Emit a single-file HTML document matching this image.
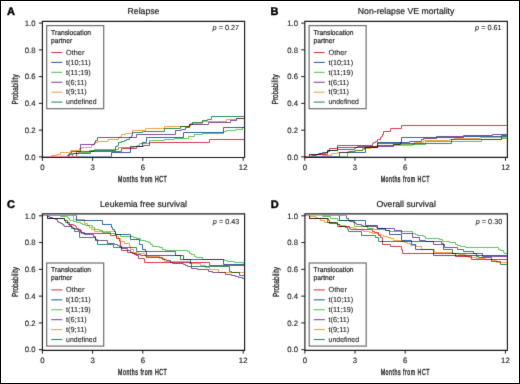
<!DOCTYPE html>
<html><head><meta charset="utf-8"><style>
html,body{margin:0;padding:0;background:#fff;}
svg{display:block;font-family:"Liberation Sans", sans-serif;will-change:transform;}
text{stroke:#1e1e1e;stroke-width:0.2px;text-rendering:geometricPrecision;}
</style></head><body>
<svg width="520" height="384" viewBox="0 0 520 384">
<defs><filter id="soft" x="0" y="0" width="520" height="384" filterUnits="userSpaceOnUse" color-interpolation-filters="sRGB"><feConvolveMatrix order="3" kernelMatrix="1 9 1 9 81 9 1 9 1" divisor="121" edgeMode="duplicate"/></filter></defs>
<g filter="url(#soft)">
<rect x="0" y="0" width="520" height="384" fill="#fff"/>
<text x="7.0" y="14.6" font-size="11" font-weight="bold" fill="#000" style="stroke:#000;stroke-width:0.45px">A</text>
<text x="143.50" y="14.40" font-size="8.7" text-anchor="middle" fill="#1e1e1e">Relapse</text>
<g style="mix-blend-mode:multiply">
<path d="M67.50,156.50 V155.50 H68.50 V154.50 H70.50 V154.50 H72.50 V153.50 H80.50 V153.50 H90.50 V151.50 H93.50 V150.50 H115.50 V146.50 H117.50 V145.50 H118.50 V142.50 H121.50 V141.50 H124.50 V140.50 H126.50 V139.50 H129.50 V137.50 H131.50 V135.50 H132.50 V132.50 H142.50 V131.50 H143.50 V131.50 H164.50 V128.50 H180.50 V126.50 H189.50 V124.50 H192.50 V122.50 H202.50 V120.50 H207.50 V119.50 H211.50 V116.50 H244.00" fill="none" stroke="#2f8a6a" stroke-width="1.0" style="mix-blend-mode:multiply"/>
<path d="M51.50,156.50 V155.50 H56.50 V154.50 H60.50 V152.50 H70.50 V150.50 H79.50 V148.50 H81.50 V147.50 H91.50 V145.50 H93.50 V144.50 H94.50 V143.50 H95.50 V142.50 H97.50 V141.50 H107.50 V140.50 H108.50 V139.50 H118.50 V137.50 H120.50 V136.50 H121.50 V134.50 H125.50 V133.50 H132.50 V130.50 H145.50 V128.50 H164.50 V126.50 H190.50 V123.50 H202.50 V121.50 H226.50 V119.50 H236.50 V118.50 H244.00" fill="none" stroke="#f8a044" stroke-width="1.0" style="mix-blend-mode:multiply"/>
<path d="M68.50,156.50 V155.50 H69.50 V153.50 H71.50 V151.50 H80.50 V144.50 H94.50 V142.50 H95.50 V140.50 H97.50 V137.50 H136.50 V134.50 H175.50 V130.50 H181.50 V129.50 H185.50 V127.50 H189.50 V124.50 H208.50 V122.50 H230.50 V120.50 H236.50 V118.50 H244.00" fill="none" stroke="#7f4f9f" stroke-width="1.0" style="mix-blend-mode:multiply"/>
<path d="M72.50,156.50 V154.50 H73.50 V153.50 H78.50 V152.50 H89.50 V150.50 H94.50 V149.50 H115.50 V149.50 H118.50 V147.50 H134.50 V146.50 H137.50 V145.50 H139.50 V143.50 H142.50 V143.50 H149.50 V140.50 H151.50 V140.50 H164.50 V139.50 H174.50 V138.50 H188.50 V136.50 H194.50 V134.50 H202.50 V133.50 H223.50 V131.50 H226.50 V130.50 H235.50 V129.50 H242.50 V127.50 H244.00" fill="none" stroke="#5ec45a" stroke-width="1.0" style="mix-blend-mode:multiply"/>
<path d="M111.50,156.50 V152.50 H130.50 V146.50 H142.50 V142.50 H146.50 V137.50 H183.50 V132.50 H223.50 V127.50 H244.00" fill="none" stroke="#3068a6" stroke-width="1.0" style="mix-blend-mode:multiply"/>
<path d="M76.50,156.50 V151.50 H90.50 V151.50 H121.50 V148.50 H136.50 V146.50 H143.50 V145.50 H149.50 V142.50 H209.50 V139.50 H244.00" fill="none" stroke="#d83a52" stroke-width="1.0" style="mix-blend-mode:multiply"/>
</g>
<line x1="42.50" y1="156.50" x2="76.50" y2="156.50" stroke="#d83a52" stroke-width="1.0" opacity="0.6"/>
<line x1="76.50" y1="156.50" x2="111.50" y2="156.50" stroke="#3068a6" stroke-width="1.0" opacity="0.6"/>
<path d="M42.40,21.30 H244.60 V157.50 H42.40 Z" fill="none" stroke="#161a1c" stroke-width="1.15"/>
<line x1="38.80" y1="156.90" x2="42.40" y2="156.90" stroke="#161a1c" stroke-width="1"/>
<text x="35.60" y="159.65" font-size="7.75" text-anchor="end" fill="#1e1e1e" style="stroke-width:0.12px">0.0</text>
<line x1="38.80" y1="130.14" x2="42.40" y2="130.14" stroke="#161a1c" stroke-width="1"/>
<text x="35.60" y="132.89" font-size="7.75" text-anchor="end" fill="#1e1e1e" style="stroke-width:0.12px">0.2</text>
<line x1="38.80" y1="103.38" x2="42.40" y2="103.38" stroke="#161a1c" stroke-width="1"/>
<text x="35.60" y="106.13" font-size="7.75" text-anchor="end" fill="#1e1e1e" style="stroke-width:0.12px">0.4</text>
<line x1="38.80" y1="76.62" x2="42.40" y2="76.62" stroke="#161a1c" stroke-width="1"/>
<text x="35.60" y="79.37" font-size="7.75" text-anchor="end" fill="#1e1e1e" style="stroke-width:0.12px">0.6</text>
<line x1="38.80" y1="49.86" x2="42.40" y2="49.86" stroke="#161a1c" stroke-width="1"/>
<text x="35.60" y="52.61" font-size="7.75" text-anchor="end" fill="#1e1e1e" style="stroke-width:0.12px">0.8</text>
<line x1="38.80" y1="23.10" x2="42.40" y2="23.10" stroke="#161a1c" stroke-width="1"/>
<text x="35.60" y="25.85" font-size="7.75" text-anchor="end" fill="#1e1e1e" style="stroke-width:0.12px">1.0</text>
<line x1="42.40" y1="157.50" x2="42.40" y2="160.80" stroke="#161a1c" stroke-width="1"/>
<text x="42.40" y="170.00" font-size="7.8" text-anchor="middle" fill="#1e1e1e" style="stroke-width:0.15px">0</text>
<line x1="92.60" y1="157.50" x2="92.60" y2="160.80" stroke="#161a1c" stroke-width="1"/>
<text x="92.60" y="170.00" font-size="7.8" text-anchor="middle" fill="#1e1e1e" style="stroke-width:0.15px">3</text>
<line x1="142.80" y1="157.50" x2="142.80" y2="160.80" stroke="#161a1c" stroke-width="1"/>
<text x="142.80" y="170.00" font-size="7.8" text-anchor="middle" fill="#1e1e1e" style="stroke-width:0.15px">6</text>
<line x1="243.20" y1="157.50" x2="243.20" y2="160.80" stroke="#161a1c" stroke-width="1"/>
<text x="243.20" y="170.00" font-size="7.8" text-anchor="middle" fill="#1e1e1e" style="stroke-width:0.15px">12</text>
<text transform="translate(142.70,182.20) scale(0.6,1)" font-size="8.8" text-anchor="middle" fill="#1e1e1e" style="stroke-width:0.4px;letter-spacing:0.85px">Months from HCT</text>
<text transform="translate(18.00,89.40) rotate(-90) scale(0.73,1)" font-size="8.8" text-anchor="middle" fill="#1e1e1e" style="stroke-width:0.3px">Probability</text>
<text x="239.20" y="29.70" font-size="7.3" text-anchor="end" fill="#1e1e1e" style="stroke-width:0.1px"><tspan font-style="italic">p</tspan> = 0.27</text>
<rect x="46.70" y="25.60" width="57.00" height="83.10" fill="#fff" stroke="#6e6e6e" stroke-width="1.2"/>
<text x="51.10" y="34.70" font-size="7.2" fill="#1e1e1e" textLength="40.0" lengthAdjust="spacingAndGlyphs">Translocation</text>
<text x="51.10" y="42.70" font-size="7.2" fill="#1e1e1e" textLength="21.2" lengthAdjust="spacingAndGlyphs">partner</text>
<line x1="51.30" y1="52.50" x2="62.30" y2="52.50" stroke="#d83a52" stroke-width="1.1"/>
<text x="66.10" y="54.80" font-size="7.3" fill="#1e1e1e" style="stroke-width:0.1px">Other</text>
<line x1="51.30" y1="62.42" x2="62.30" y2="62.42" stroke="#3068a6" stroke-width="1.1"/>
<text x="66.10" y="64.72" font-size="7.3" fill="#1e1e1e" style="stroke-width:0.1px">t(10;11)</text>
<line x1="51.30" y1="72.34" x2="62.30" y2="72.34" stroke="#5ec45a" stroke-width="1.1"/>
<text x="66.10" y="74.64" font-size="7.3" fill="#1e1e1e" style="stroke-width:0.1px">t(11;19)</text>
<line x1="51.30" y1="82.26" x2="62.30" y2="82.26" stroke="#7f4f9f" stroke-width="1.1"/>
<text x="66.10" y="84.56" font-size="7.3" fill="#1e1e1e" style="stroke-width:0.1px">t(6;11)</text>
<line x1="51.30" y1="92.18" x2="62.30" y2="92.18" stroke="#f8a044" stroke-width="1.1"/>
<text x="66.10" y="94.48" font-size="7.3" fill="#1e1e1e" style="stroke-width:0.1px">t(9;11)</text>
<line x1="51.30" y1="102.10" x2="62.30" y2="102.10" stroke="#2f8a6a" stroke-width="1.1"/>
<text x="66.10" y="104.40" font-size="7.3" fill="#1e1e1e" style="stroke-width:0.1px" textLength="30.4" lengthAdjust="spacingAndGlyphs">undefined</text>
<text x="270.6" y="14.6" font-size="11" font-weight="bold" fill="#000" style="stroke:#000;stroke-width:0.45px">B</text>
<text x="406.10" y="14.40" font-size="8.7" text-anchor="middle" fill="#1e1e1e">Non-relapse VE mortality</text>
<g style="mix-blend-mode:multiply">
<path d="M311.50,156.50 V155.50 H316.50 V154.50 H320.50 V153.50 H322.50 V153.50 H325.50 V152.50 H327.50 V150.50 H337.50 V147.50 H377.50 V143.50 H425.50 V143.50 H451.50 V139.50 H501.50 V136.50 H506.80" fill="none" stroke="#2f8a6a" stroke-width="1.0" style="mix-blend-mode:multiply"/>
<path d="M322.50,156.50 V155.50 H331.50 V153.50 H337.50 V152.50 H347.50 V151.50 H355.50 V150.50 H362.50 V148.50 H370.50 V146.50 H377.50 V145.50 H412.50 V144.50 H414.50 V142.50 H423.50 V140.50 H449.50 V139.50 H454.50 V138.50 H480.50 V137.50 H506.80" fill="none" stroke="#f8a044" stroke-width="1.0" style="mix-blend-mode:multiply"/>
<path d="M309.50,156.50 V154.50 H318.50 V153.50 H322.50 V152.50 H327.50 V150.50 H337.50 V149.50 H354.50 V148.50 H355.50 V147.50 H357.50 V146.50 H393.50 V144.50 H400.50 V142.50 H409.50 V141.50 H421.50 V139.50 H423.50 V138.50 H436.50 V136.50 H463.50 V135.50 H492.50 V134.50 H506.80" fill="none" stroke="#7f4f9f" stroke-width="1.0" style="mix-blend-mode:multiply"/>
<path d="M347.50,156.50 V152.50 H349.50 V151.50 H354.50 V150.50 H362.50 V149.50 H364.50 V147.50 H377.50 V145.50 H393.50 V144.50 H425.50 V141.50 H481.50 V139.50 H501.50 V138.50 H506.80" fill="none" stroke="#5ec45a" stroke-width="1.0" style="mix-blend-mode:multiply"/>
<path d="M339.50,156.50 V152.50 H365.50 V147.50 H377.50 V142.50 H401.50 V137.50 H436.50 V137.50 H463.50 V136.50 H501.50 V135.50 H506.80" fill="none" stroke="#3068a6" stroke-width="1.0" style="mix-blend-mode:multiply"/>
<path d="M309.50,156.50 V154.50 H327.50 V151.50 H329.50 V148.50 H337.50 V145.50 H372.50 V143.50 H373.50 V142.50 H375.50 V141.50 H377.50 V139.50 H378.50 V139.50 H380.50 V137.50 H381.50 V136.50 H382.50 V134.50 H383.50 V131.50 H390.50 V128.50 H401.50 V125.50 H506.80" fill="none" stroke="#d83a52" stroke-width="1.0" style="mix-blend-mode:multiply"/>
</g>
<line x1="304.50" y1="156.50" x2="309.50" y2="156.50" stroke="#d83a52" stroke-width="1.0" opacity="0.6"/>
<line x1="309.50" y1="156.50" x2="339.50" y2="156.50" stroke="#3068a6" stroke-width="1.0" opacity="0.6"/>
<line x1="339.50" y1="156.50" x2="347.50" y2="156.50" stroke="#5ec45a" stroke-width="1.0" opacity="0.6"/>
<path d="M304.80,21.30 H507.40 V157.40 H304.80 Z" fill="none" stroke="#161a1c" stroke-width="1.15"/>
<line x1="301.20" y1="156.90" x2="304.80" y2="156.90" stroke="#161a1c" stroke-width="1"/>
<text x="298.00" y="159.65" font-size="7.75" text-anchor="end" fill="#1e1e1e" style="stroke-width:0.12px">0.0</text>
<line x1="301.20" y1="130.14" x2="304.80" y2="130.14" stroke="#161a1c" stroke-width="1"/>
<text x="298.00" y="132.89" font-size="7.75" text-anchor="end" fill="#1e1e1e" style="stroke-width:0.12px">0.2</text>
<line x1="301.20" y1="103.38" x2="304.80" y2="103.38" stroke="#161a1c" stroke-width="1"/>
<text x="298.00" y="106.13" font-size="7.75" text-anchor="end" fill="#1e1e1e" style="stroke-width:0.12px">0.4</text>
<line x1="301.20" y1="76.62" x2="304.80" y2="76.62" stroke="#161a1c" stroke-width="1"/>
<text x="298.00" y="79.37" font-size="7.75" text-anchor="end" fill="#1e1e1e" style="stroke-width:0.12px">0.6</text>
<line x1="301.20" y1="49.86" x2="304.80" y2="49.86" stroke="#161a1c" stroke-width="1"/>
<text x="298.00" y="52.61" font-size="7.75" text-anchor="end" fill="#1e1e1e" style="stroke-width:0.12px">0.8</text>
<line x1="301.20" y1="23.10" x2="304.80" y2="23.10" stroke="#161a1c" stroke-width="1"/>
<text x="298.00" y="25.85" font-size="7.75" text-anchor="end" fill="#1e1e1e" style="stroke-width:0.12px">1.0</text>
<line x1="304.80" y1="157.40" x2="304.80" y2="160.70" stroke="#161a1c" stroke-width="1"/>
<text x="304.80" y="169.90" font-size="7.8" text-anchor="middle" fill="#1e1e1e" style="stroke-width:0.15px">0</text>
<line x1="354.98" y1="157.40" x2="354.98" y2="160.70" stroke="#161a1c" stroke-width="1"/>
<text x="354.98" y="169.90" font-size="7.8" text-anchor="middle" fill="#1e1e1e" style="stroke-width:0.15px">3</text>
<line x1="405.15" y1="157.40" x2="405.15" y2="160.70" stroke="#161a1c" stroke-width="1"/>
<text x="405.15" y="169.90" font-size="7.8" text-anchor="middle" fill="#1e1e1e" style="stroke-width:0.15px">6</text>
<line x1="505.50" y1="157.40" x2="505.50" y2="160.70" stroke="#161a1c" stroke-width="1"/>
<text x="505.50" y="169.90" font-size="7.8" text-anchor="middle" fill="#1e1e1e" style="stroke-width:0.15px">12</text>
<text transform="translate(405.30,182.10) scale(0.6,1)" font-size="8.8" text-anchor="middle" fill="#1e1e1e" style="stroke-width:0.4px;letter-spacing:0.85px">Months from HCT</text>
<text transform="translate(278.40,89.35) rotate(-90) scale(0.73,1)" font-size="8.8" text-anchor="middle" fill="#1e1e1e" style="stroke-width:0.3px">Probability</text>
<text x="501.70" y="30.30" font-size="7.3" text-anchor="end" fill="#1e1e1e" style="stroke-width:0.1px"><tspan font-style="italic">p</tspan> = 0.61</text>
<rect x="309.10" y="25.60" width="57.00" height="83.10" fill="#fff" stroke="#6e6e6e" stroke-width="1.2"/>
<text x="313.50" y="34.70" font-size="7.2" fill="#1e1e1e" textLength="40.0" lengthAdjust="spacingAndGlyphs">Translocation</text>
<text x="313.50" y="42.70" font-size="7.2" fill="#1e1e1e" textLength="21.2" lengthAdjust="spacingAndGlyphs">partner</text>
<line x1="313.70" y1="52.50" x2="324.70" y2="52.50" stroke="#d83a52" stroke-width="1.1"/>
<text x="328.50" y="54.80" font-size="7.3" fill="#1e1e1e" style="stroke-width:0.1px">Other</text>
<line x1="313.70" y1="62.42" x2="324.70" y2="62.42" stroke="#3068a6" stroke-width="1.1"/>
<text x="328.50" y="64.72" font-size="7.3" fill="#1e1e1e" style="stroke-width:0.1px">t(10;11)</text>
<line x1="313.70" y1="72.34" x2="324.70" y2="72.34" stroke="#5ec45a" stroke-width="1.1"/>
<text x="328.50" y="74.64" font-size="7.3" fill="#1e1e1e" style="stroke-width:0.1px">t(11;19)</text>
<line x1="313.70" y1="82.26" x2="324.70" y2="82.26" stroke="#7f4f9f" stroke-width="1.1"/>
<text x="328.50" y="84.56" font-size="7.3" fill="#1e1e1e" style="stroke-width:0.1px">t(6;11)</text>
<line x1="313.70" y1="92.18" x2="324.70" y2="92.18" stroke="#f8a044" stroke-width="1.1"/>
<text x="328.50" y="94.48" font-size="7.3" fill="#1e1e1e" style="stroke-width:0.1px">t(9;11)</text>
<line x1="313.70" y1="102.10" x2="324.70" y2="102.10" stroke="#2f8a6a" stroke-width="1.1"/>
<text x="328.50" y="104.40" font-size="7.3" fill="#1e1e1e" style="stroke-width:0.1px" textLength="30.4" lengthAdjust="spacingAndGlyphs">undefined</text>
<text x="7.0" y="207.8" font-size="11" font-weight="bold" fill="#000" style="stroke:#000;stroke-width:0.45px">C</text>
<text x="143.50" y="206.90" font-size="8.7" text-anchor="middle" fill="#1e1e1e">Leukemia free survival</text>
<g style="mix-blend-mode:multiply">
<path d="M47.50,215.50 V218.50 H64.50 V220.50 H65.50 V222.50 H69.50 V223.50 H69.50 V225.50 H71.50 V228.50 H74.50 V231.50 H79.50 V237.50 H95.50 V240.50 H97.50 V244.50 H113.50 V247.50 H136.50 V251.50 H175.50 V255.50 H180.50 V259.50 H190.50 V263.50 H191.50 V266.50 H229.50 V271.50 H231.50 V272.50 H239.50 V275.50 H244.00" fill="none" stroke="#2f8a6a" stroke-width="1.0" style="mix-blend-mode:multiply"/>
<path d="M47.50,215.50 V216.50 H49.50 V217.50 H52.50 V218.50 H53.50 V218.50 H55.50 V219.50 H57.50 V221.50 H58.50 V222.50 H60.50 V223.50 H62.50 V224.50 H63.50 V225.50 H64.50 V226.50 H72.50 V227.50 H73.50 V228.50 H75.50 V229.50 H76.50 V229.50 H78.50 V230.50 H80.50 V232.50 H84.50 V234.50 H90.50 V234.50 H93.50 V236.50 H95.50 V239.50 H97.50 V240.50 H107.50 V243.50 H114.50 V244.50 H117.50 V245.50 H119.50 V246.50 H121.50 V248.50 H127.50 V250.50 H130.50 V252.50 H132.50 V253.50 H134.50 V254.50 H140.50 V255.50 H146.50 V257.50 H162.50 V259.50 H166.50 V260.50 H170.50 V262.50 H172.50 V263.50 H183.50 V264.50 H185.50 V265.50 H187.50 V266.50 H191.50 V268.50 H197.50 V269.50 H208.50 V271.50 H212.50 V272.50 H225.50 V274.50 H231.50 V275.50 H235.50 V276.50 H238.50 V277.50 H242.50 V278.50 H244.00" fill="none" stroke="#7f4f9f" stroke-width="1.0" style="mix-blend-mode:multiply"/>
<path d="M73.50,215.50 V219.50 H84.50 V223.50 H87.50 V225.50 H89.50 V227.50 H91.50 V229.50 H94.50 V231.50 H115.50 V234.50 H116.50 V236.50 H118.50 V238.50 H120.50 V241.50 H124.50 V243.50 H129.50 V246.50 H130.50 V249.50 H133.50 V252.50 H138.50 V253.50 H144.50 V254.50 H145.50 V256.50 H159.50 V258.50 H164.50 V261.50 H189.50 V263.50 H200.50 V265.50 H205.50 V267.50 H209.50 V269.50 H218.50 V272.50 H244.00" fill="none" stroke="#f8a044" stroke-width="1.0" style="mix-blend-mode:multiply"/>
<path d="M60.50,215.50 V216.50 H67.50 V217.50 H68.50 V218.50 H69.50 V220.50 H71.50 V220.50 H73.50 V221.50 H76.50 V222.50 H80.50 V223.50 H82.50 V224.50 H85.50 V225.50 H90.50 V225.50 H92.50 V227.50 H94.50 V229.50 H99.50 V230.50 H102.50 V232.50 H105.50 V232.50 H110.50 V233.50 H114.50 V234.50 H120.50 V236.50 H133.50 V237.50 H136.50 V238.50 H140.50 V240.50 H145.50 V241.50 H148.50 V242.50 H150.50 V244.50 H152.50 V246.50 H159.50 V247.50 H162.50 V249.50 H165.50 V250.50 H187.50 V251.50 H189.50 V253.50 H191.50 V254.50 H194.50 V256.50 H196.50 V257.50 H202.50 V259.50 H224.50 V260.50 H227.50 V261.50 H234.50 V262.50 H243.50 V263.50 H244.00" fill="none" stroke="#5ec45a" stroke-width="1.0" style="mix-blend-mode:multiply"/>
<path d="M76.50,215.50 V220.50 H102.50 V224.50 H111.50 V227.50 H112.50 V229.50 H114.50 V231.50 H115.50 V234.50 H130.50 V239.50 H139.50 V242.50 H139.50 V244.50 H142.50 V249.50 H145.50 V251.50 H146.50 V255.50 H183.50 V259.50 H223.50 V264.50 H244.00" fill="none" stroke="#3068a6" stroke-width="1.0" style="mix-blend-mode:multiply"/>
<path d="M47.50,215.50 V218.50 H64.50 V220.50 H67.50 V223.50 H68.50 V224.50 H73.50 V225.50 H75.50 V226.50 H76.50 V228.50 H78.50 V229.50 H80.50 V230.50 H81.50 V233.50 H110.50 V235.50 H114.50 V235.50 H116.50 V238.50 H119.50 V241.50 H120.50 V246.50 H121.50 V250.50 H127.50 V252.50 H132.50 V253.50 H136.50 V255.50 H138.50 V258.50 H144.50 V262.50 H209.50 V265.50 H244.00" fill="none" stroke="#d83a52" stroke-width="1.0" style="mix-blend-mode:multiply"/>
</g>
<line x1="42.50" y1="215.50" x2="47.50" y2="215.50" stroke="#d83a52" stroke-width="1.0" opacity="0.6"/>
<line x1="47.50" y1="215.50" x2="76.50" y2="215.50" stroke="#3068a6" stroke-width="1.0" opacity="0.6"/>
<path d="M42.40,213.80 H244.60 V350.30 H42.40 Z" fill="none" stroke="#161a1c" stroke-width="1.15"/>
<line x1="38.80" y1="349.70" x2="42.40" y2="349.70" stroke="#161a1c" stroke-width="1"/>
<text x="35.60" y="352.45" font-size="7.75" text-anchor="end" fill="#1e1e1e" style="stroke-width:0.12px">0.0</text>
<line x1="38.80" y1="322.92" x2="42.40" y2="322.92" stroke="#161a1c" stroke-width="1"/>
<text x="35.60" y="325.67" font-size="7.75" text-anchor="end" fill="#1e1e1e" style="stroke-width:0.12px">0.2</text>
<line x1="38.80" y1="296.14" x2="42.40" y2="296.14" stroke="#161a1c" stroke-width="1"/>
<text x="35.60" y="298.89" font-size="7.75" text-anchor="end" fill="#1e1e1e" style="stroke-width:0.12px">0.4</text>
<line x1="38.80" y1="269.36" x2="42.40" y2="269.36" stroke="#161a1c" stroke-width="1"/>
<text x="35.60" y="272.11" font-size="7.75" text-anchor="end" fill="#1e1e1e" style="stroke-width:0.12px">0.6</text>
<line x1="38.80" y1="242.58" x2="42.40" y2="242.58" stroke="#161a1c" stroke-width="1"/>
<text x="35.60" y="245.33" font-size="7.75" text-anchor="end" fill="#1e1e1e" style="stroke-width:0.12px">0.8</text>
<line x1="38.80" y1="215.80" x2="42.40" y2="215.80" stroke="#161a1c" stroke-width="1"/>
<text x="35.60" y="218.55" font-size="7.75" text-anchor="end" fill="#1e1e1e" style="stroke-width:0.12px">1.0</text>
<line x1="42.40" y1="350.30" x2="42.40" y2="353.60" stroke="#161a1c" stroke-width="1"/>
<text x="42.40" y="362.80" font-size="7.8" text-anchor="middle" fill="#1e1e1e" style="stroke-width:0.15px">0</text>
<line x1="92.60" y1="350.30" x2="92.60" y2="353.60" stroke="#161a1c" stroke-width="1"/>
<text x="92.60" y="362.80" font-size="7.8" text-anchor="middle" fill="#1e1e1e" style="stroke-width:0.15px">3</text>
<line x1="142.80" y1="350.30" x2="142.80" y2="353.60" stroke="#161a1c" stroke-width="1"/>
<text x="142.80" y="362.80" font-size="7.8" text-anchor="middle" fill="#1e1e1e" style="stroke-width:0.15px">6</text>
<line x1="243.20" y1="350.30" x2="243.20" y2="353.60" stroke="#161a1c" stroke-width="1"/>
<text x="243.20" y="362.80" font-size="7.8" text-anchor="middle" fill="#1e1e1e" style="stroke-width:0.15px">12</text>
<text transform="translate(142.70,375.00) scale(0.6,1)" font-size="8.8" text-anchor="middle" fill="#1e1e1e" style="stroke-width:0.4px;letter-spacing:0.85px">Months from HCT</text>
<text transform="translate(18.00,282.05) rotate(-90) scale(0.73,1)" font-size="8.8" text-anchor="middle" fill="#1e1e1e" style="stroke-width:0.3px">Probability</text>
<text x="239.40" y="223.90" font-size="7.3" text-anchor="end" fill="#1e1e1e" style="stroke-width:0.1px"><tspan font-style="italic">p</tspan> = 0.43</text>
<rect x="46.70" y="263.00" width="57.00" height="83.10" fill="#fff" stroke="#6e6e6e" stroke-width="1.2"/>
<text x="51.10" y="272.10" font-size="7.2" fill="#1e1e1e" textLength="40.0" lengthAdjust="spacingAndGlyphs">Translocation</text>
<text x="51.10" y="280.10" font-size="7.2" fill="#1e1e1e" textLength="21.2" lengthAdjust="spacingAndGlyphs">partner</text>
<line x1="51.30" y1="289.90" x2="62.30" y2="289.90" stroke="#d83a52" stroke-width="1.1"/>
<text x="66.10" y="292.20" font-size="7.3" fill="#1e1e1e" style="stroke-width:0.1px">Other</text>
<line x1="51.30" y1="299.82" x2="62.30" y2="299.82" stroke="#3068a6" stroke-width="1.1"/>
<text x="66.10" y="302.12" font-size="7.3" fill="#1e1e1e" style="stroke-width:0.1px">t(10;11)</text>
<line x1="51.30" y1="309.74" x2="62.30" y2="309.74" stroke="#5ec45a" stroke-width="1.1"/>
<text x="66.10" y="312.04" font-size="7.3" fill="#1e1e1e" style="stroke-width:0.1px">t(11;19)</text>
<line x1="51.30" y1="319.66" x2="62.30" y2="319.66" stroke="#7f4f9f" stroke-width="1.1"/>
<text x="66.10" y="321.96" font-size="7.3" fill="#1e1e1e" style="stroke-width:0.1px">t(6;11)</text>
<line x1="51.30" y1="329.58" x2="62.30" y2="329.58" stroke="#f8a044" stroke-width="1.1"/>
<text x="66.10" y="331.88" font-size="7.3" fill="#1e1e1e" style="stroke-width:0.1px">t(9;11)</text>
<line x1="51.30" y1="339.50" x2="62.30" y2="339.50" stroke="#2f8a6a" stroke-width="1.1"/>
<text x="66.10" y="341.80" font-size="7.3" fill="#1e1e1e" style="stroke-width:0.1px" textLength="30.4" lengthAdjust="spacingAndGlyphs">undefined</text>
<text x="270.8" y="207.8" font-size="11" font-weight="bold" fill="#000" style="stroke:#000;stroke-width:0.45px">D</text>
<text x="406.15" y="206.90" font-size="8.7" text-anchor="middle" fill="#1e1e1e">Overall survival</text>
<g style="mix-blend-mode:multiply">
<path d="M309.50,215.50 V218.50 H327.50 V220.50 H327.50 V222.50 H336.50 V222.50 H337.50 V224.50 H339.50 V226.50 H345.50 V227.50 H347.50 V229.50 H348.50 V231.50 H361.50 V235.50 H375.50 V237.50 H378.50 V241.50 H441.50 V243.50 H443.50 V249.50 H452.50 V253.50 H476.50 V256.50 H478.50 V257.50 H491.50 V261.50 H500.50 V264.50 H506.80" fill="none" stroke="#2f8a6a" stroke-width="1.0" style="mix-blend-mode:multiply"/>
<path d="M309.50,215.50 V216.50 H315.50 V217.50 H317.50 V218.50 H320.50 V220.50 H324.50 V222.50 H326.50 V222.50 H336.50 V223.50 H337.50 V224.50 H340.50 V225.50 H342.50 V225.50 H345.50 V226.50 H348.50 V227.50 H350.50 V227.50 H353.50 V228.50 H356.50 V229.50 H361.50 V230.50 H363.50 V231.50 H369.50 V232.50 H372.50 V233.50 H375.50 V233.50 H378.50 V234.50 H381.50 V235.50 H383.50 V236.50 H387.50 V237.50 H390.50 V238.50 H393.50 V240.50 H400.50 V241.50 H404.50 V242.50 H407.50 V243.50 H410.50 V245.50 H416.50 V246.50 H421.50 V249.50 H434.50 V252.50 H452.50 V253.50 H458.50 V254.50 H465.50 V256.50 H468.50 V257.50 H476.50 V258.50 H485.50 V259.50 H492.50 V260.50 H496.50 V262.50 H506.80" fill="none" stroke="#f8a044" stroke-width="1.0" style="mix-blend-mode:multiply"/>
<path d="M339.50,215.50 V220.50 H365.50 V225.50 H377.50 V228.50 H385.50 V230.50 H389.50 V234.50 H401.50 V240.50 H411.50 V244.50 H415.50 V249.50 H433.50 V255.50 H506.80" fill="none" stroke="#3068a6" stroke-width="1.0" style="mix-blend-mode:multiply"/>
<path d="M346.50,215.50 V218.50 H348.50 V220.50 H349.50 V221.50 H353.50 V222.50 H355.50 V223.50 H356.50 V224.50 H361.50 V225.50 H363.50 V226.50 H376.50 V227.50 H377.50 V228.50 H394.50 V230.50 H401.50 V233.50 H412.50 V237.50 H419.50 V240.50 H425.50 V241.50 H433.50 V244.50 H444.50 V247.50 H457.50 V249.50 H463.50 V251.50 H473.50 V253.50 H482.50 V256.50 H506.80" fill="none" stroke="#7f4f9f" stroke-width="1.0" style="mix-blend-mode:multiply"/>
<path d="M322.50,215.50 V216.50 H330.50 V218.50 H337.50 V220.50 H354.50 V226.50 H367.50 V228.50 H373.50 V229.50 H375.50 V229.50 H385.50 V230.50 H389.50 V231.50 H412.50 V233.50 H415.50 V234.50 H417.50 V235.50 H423.50 V236.50 H425.50 V238.50 H439.50 V239.50 H442.50 V241.50 H445.50 V241.50 H449.50 V242.50 H455.50 V244.50 H457.50 V245.50 H460.50 V246.50 H465.50 V247.50 H498.50 V249.50 H500.50 V250.50 H503.50 V252.50 H504.50 V253.50 H506.80" fill="none" stroke="#5ec45a" stroke-width="1.0" style="mix-blend-mode:multiply"/>
<path d="M309.50,215.50 V218.50 H328.50 V220.50 H329.50 V223.50 H337.50 V225.50 H337.50 V226.50 H349.50 V228.50 H350.50 V229.50 H372.50 V231.50 H374.50 V232.50 H378.50 V235.50 H380.50 V237.50 H382.50 V244.50 H390.50 V246.50 H401.50 V249.50 H402.50 V253.50 H455.50 V256.50 H471.50 V259.50 H506.80" fill="none" stroke="#d83a52" stroke-width="1.0" style="mix-blend-mode:multiply"/>
</g>
<line x1="304.50" y1="215.50" x2="309.50" y2="215.50" stroke="#d83a52" stroke-width="1.0" opacity="0.6"/>
<line x1="309.50" y1="215.50" x2="322.50" y2="215.50" stroke="#5ec45a" stroke-width="1.0" opacity="0.6"/>
<line x1="322.50" y1="215.50" x2="346.50" y2="215.50" stroke="#7f4f9f" stroke-width="1.0" opacity="0.6"/>
<path d="M304.90,213.80 H507.40 V350.30 H304.90 Z" fill="none" stroke="#161a1c" stroke-width="1.15"/>
<line x1="301.30" y1="349.70" x2="304.90" y2="349.70" stroke="#161a1c" stroke-width="1"/>
<text x="298.10" y="352.45" font-size="7.75" text-anchor="end" fill="#1e1e1e" style="stroke-width:0.12px">0.0</text>
<line x1="301.30" y1="322.92" x2="304.90" y2="322.92" stroke="#161a1c" stroke-width="1"/>
<text x="298.10" y="325.67" font-size="7.75" text-anchor="end" fill="#1e1e1e" style="stroke-width:0.12px">0.2</text>
<line x1="301.30" y1="296.14" x2="304.90" y2="296.14" stroke="#161a1c" stroke-width="1"/>
<text x="298.10" y="298.89" font-size="7.75" text-anchor="end" fill="#1e1e1e" style="stroke-width:0.12px">0.4</text>
<line x1="301.30" y1="269.36" x2="304.90" y2="269.36" stroke="#161a1c" stroke-width="1"/>
<text x="298.10" y="272.11" font-size="7.75" text-anchor="end" fill="#1e1e1e" style="stroke-width:0.12px">0.6</text>
<line x1="301.30" y1="242.58" x2="304.90" y2="242.58" stroke="#161a1c" stroke-width="1"/>
<text x="298.10" y="245.33" font-size="7.75" text-anchor="end" fill="#1e1e1e" style="stroke-width:0.12px">0.8</text>
<line x1="301.30" y1="215.80" x2="304.90" y2="215.80" stroke="#161a1c" stroke-width="1"/>
<text x="298.10" y="218.55" font-size="7.75" text-anchor="end" fill="#1e1e1e" style="stroke-width:0.12px">1.0</text>
<line x1="304.90" y1="350.30" x2="304.90" y2="353.60" stroke="#161a1c" stroke-width="1"/>
<text x="304.90" y="362.80" font-size="7.8" text-anchor="middle" fill="#1e1e1e" style="stroke-width:0.15px">0</text>
<line x1="355.02" y1="350.30" x2="355.02" y2="353.60" stroke="#161a1c" stroke-width="1"/>
<text x="355.02" y="362.80" font-size="7.8" text-anchor="middle" fill="#1e1e1e" style="stroke-width:0.15px">3</text>
<line x1="405.15" y1="350.30" x2="405.15" y2="353.60" stroke="#161a1c" stroke-width="1"/>
<text x="405.15" y="362.80" font-size="7.8" text-anchor="middle" fill="#1e1e1e" style="stroke-width:0.15px">6</text>
<line x1="505.40" y1="350.30" x2="505.40" y2="353.60" stroke="#161a1c" stroke-width="1"/>
<text x="505.40" y="362.80" font-size="7.8" text-anchor="middle" fill="#1e1e1e" style="stroke-width:0.15px">12</text>
<text transform="translate(405.35,375.00) scale(0.6,1)" font-size="8.8" text-anchor="middle" fill="#1e1e1e" style="stroke-width:0.4px;letter-spacing:0.85px">Months from HCT</text>
<text transform="translate(278.50,282.05) rotate(-90) scale(0.73,1)" font-size="8.8" text-anchor="middle" fill="#1e1e1e" style="stroke-width:0.3px">Probability</text>
<text x="502.30" y="223.90" font-size="7.3" text-anchor="end" fill="#1e1e1e" style="stroke-width:0.1px"><tspan font-style="italic">p</tspan> = 0.30</text>
<rect x="309.20" y="263.00" width="57.00" height="83.10" fill="#fff" stroke="#6e6e6e" stroke-width="1.2"/>
<text x="313.60" y="272.10" font-size="7.2" fill="#1e1e1e" textLength="40.0" lengthAdjust="spacingAndGlyphs">Translocation</text>
<text x="313.60" y="280.10" font-size="7.2" fill="#1e1e1e" textLength="21.2" lengthAdjust="spacingAndGlyphs">partner</text>
<line x1="313.80" y1="289.90" x2="324.80" y2="289.90" stroke="#d83a52" stroke-width="1.1"/>
<text x="328.60" y="292.20" font-size="7.3" fill="#1e1e1e" style="stroke-width:0.1px">Other</text>
<line x1="313.80" y1="299.82" x2="324.80" y2="299.82" stroke="#3068a6" stroke-width="1.1"/>
<text x="328.60" y="302.12" font-size="7.3" fill="#1e1e1e" style="stroke-width:0.1px">t(10;11)</text>
<line x1="313.80" y1="309.74" x2="324.80" y2="309.74" stroke="#5ec45a" stroke-width="1.1"/>
<text x="328.60" y="312.04" font-size="7.3" fill="#1e1e1e" style="stroke-width:0.1px">t(11;19)</text>
<line x1="313.80" y1="319.66" x2="324.80" y2="319.66" stroke="#7f4f9f" stroke-width="1.1"/>
<text x="328.60" y="321.96" font-size="7.3" fill="#1e1e1e" style="stroke-width:0.1px">t(6;11)</text>
<line x1="313.80" y1="329.58" x2="324.80" y2="329.58" stroke="#f8a044" stroke-width="1.1"/>
<text x="328.60" y="331.88" font-size="7.3" fill="#1e1e1e" style="stroke-width:0.1px">t(9;11)</text>
<line x1="313.80" y1="339.50" x2="324.80" y2="339.50" stroke="#2f8a6a" stroke-width="1.1"/>
<text x="328.60" y="341.80" font-size="7.3" fill="#1e1e1e" style="stroke-width:0.1px" textLength="30.4" lengthAdjust="spacingAndGlyphs">undefined</text>
</g>
<rect x="0.5" y="0.5" width="519" height="383" fill="none" stroke="#000" stroke-width="1"/>
</svg>
</body></html>
